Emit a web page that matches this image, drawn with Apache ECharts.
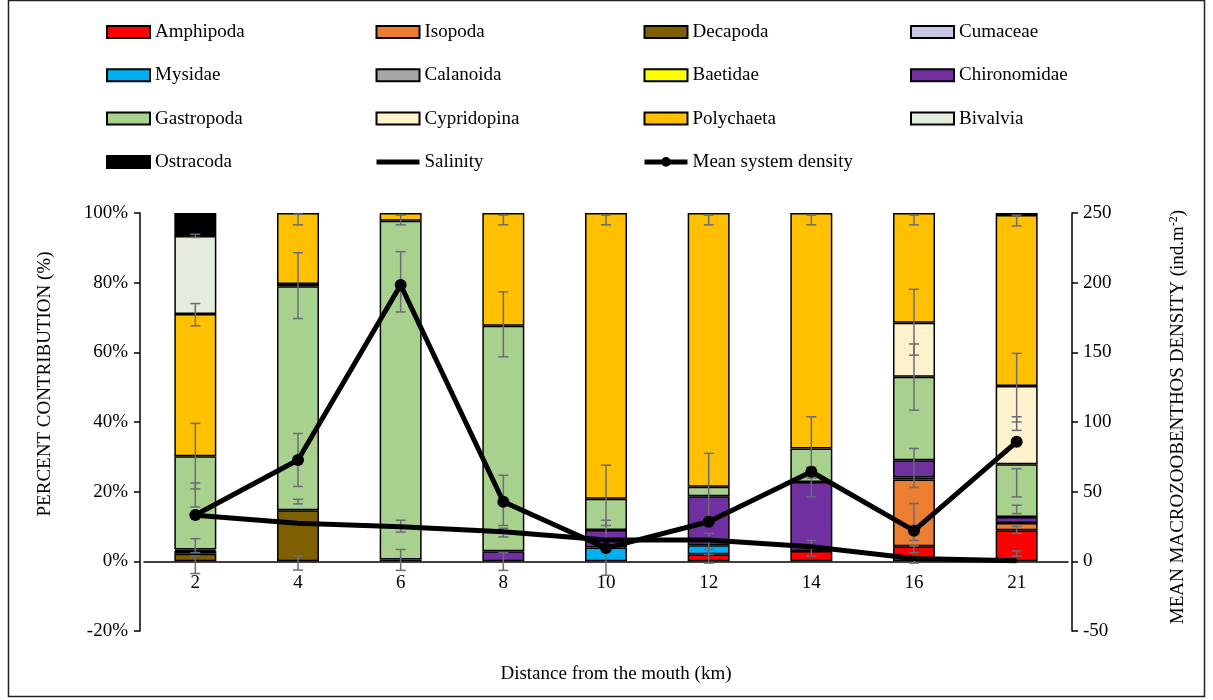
<!DOCTYPE html>
<html>
<head>
<meta charset="utf-8">
<script src="https://cdn.jsdelivr.net/npm/echarts@6/dist/echarts.min.js"></script>
<style>
  html, body { margin: 0; padding: 0; background: #fff; }
  #chart { width: 1213px; height: 700px; }
</style>
</head>
<body>
<div id="chart"></div>
<script>
// Sampling stations, distance from the mouth (km)
const categories = ['2', '4', '6', '8', '10', '12', '14', '16', '21'];

// Percent contribution of each taxon per station (stacked, bottom to top)
const amphipoda    = [0,    0,    0,    0,    0,    2.0,  3.0,  4.3,  8.9];
const isopoda      = [0,    0,    0,    0,    0,    0,    0,    19.2, 2.1];
const decapoda     = [2.2,  14.7, 0.5,  0,    0,    0,    0,    0,    0];
const cumaceae     = [0.8,  0,    0,    0,    0,    0,    0,    0,    0];
const mysidae      = [0,    0,    0,    0,    4.0,  2.6,  0,    0,    0];
const calanoida    = [0.4,  0,    0,    0,    0,    0,    0,    0.6,  0];
const baetidae     = [0,    0,    0,    0,    0,    0,    0,    0,    0];
const chironomidae = [0,    0,    0,    2.9,  5.0,  14.1, 19.8, 4.9,  1.7];
const gastropoda   = [26.8, 64.3, 97.3, 64.7, 9.0,  2.7,  9.6,  24.0, 15.2];
const cypridopina  = [0,    0.6,  0,    0,    0,    0,    0,    15.5, 22.4];
const polychaeta   = [40.8, 20.4, 2.2,  32.4, 82.0, 78.6, 67.6, 31.5, 49.1];
const bivalvia     = [22.4, 0,    0,    0,    0,    0,    0,    0,    0];
const ostracoda    = [6.6,  0,    0,    0,    0,    0,    0,    0,    0.6];

// Lines on the density axis
const salinity    = [33, 27.3, 24.8, 21.2, 15.3, 15.3, 10.5, 2.0, 0.5];
const meanDensity = [33.2, 72.7, 198.3, 42.8, 9.5, 28.4, 64.3, 22.0, 85.8];

// Error bar ranges on the percent axis: [station index, low, high]
const errorRanges = [
  [0, 93.0, 93.9], [0, 67.6, 74.0], [0, 20.8, 39.6], [0, 15.6, 22.5], [0, 2.5, 6.5], [0, -3.5, 1.5],
  [1, 96.6, 99.7], [1, 69.7, 88.6], [1, 21.5, 36.7], [1, 16.5, 17.8], [1, -2.5, 1.5],
  [2, 96.6, 99.4], [2, 71.6, 88.9], [2, 8.4, 11.8], [2, -2.6, 3.4],
  [3, 96.6, 99.4], [3, 58.7, 77.4], [3, 10.3, 24.7], [3, 7.0, 9.5], [3, -2.6, 2.5],
  [4, 96.6, 99.4], [4, 10.3, 27.6], [4, 6.5, 11.8], [4, -4.0, 3.0],
  [5, 96.6, 99.4], [5, 12.0, 31.0], [5, 2.0, 8.0], [5, -0.5, 3.5],
  [6, 96.6, 99.4], [6, 23.9, 41.5], [6, 18.5, 27.0], [6, 1.5, 6.0],
  [7, 96.6, 99.4], [7, 43.4, 78.1], [7, 59.2, 62.4], [7, 21.2, 32.4], [7, 6.0, 16.6], [7, 2.5, 4.5], [7, -0.5, 1.0],
  [8, 96.3, 99.4], [8, 37.6, 59.7], [8, 40.0, 41.5], [8, 18.5, 26.6], [8, 13.7, 16.1], [8, 8.0, 10.0], [8, 1.5, 3.0]
];

const taxa = [
  ['Amphipoda', amphipoda, '#ff0000'],
  ['Isopoda', isopoda, '#ed7d31'],
  ['Decapoda', decapoda, '#7f6000'],
  ['Cumaceae', cumaceae, '#c8c8e4'],
  ['Mysidae', mysidae, '#00b0f0'],
  ['Calanoida', calanoida, '#a6a6a6'],
  ['Baetidae', baetidae, '#ffff00'],
  ['Chironomidae', chironomidae, '#7030a0'],
  ['Gastropoda', gastropoda, '#a9d18e'],
  ['Cypridopina', cypridopina, '#fff2cc'],
  ['Polychaeta', polychaeta, '#ffc000'],
  ['Bivalvia', bivalvia, '#e4ecde'],
  ['Ostracoda', ostracoda, '#000000']
];

const FONT = 'Liberation Serif, Times New Roman, serif';
const errColor = '#6b6b7a';

// grid spans the -20..100 % range; zero sits 20/120 of the height above the bottom
const gridTop = 213, gridBottomY = 631;
const zeroOffset = (gridBottomY - gridTop) * 20 / 120;

const barSeries = taxa.map(([name, values, color]) => ({
  name: name,
  type: 'bar',
  stack: 'total',
  barWidth: 42,
  yAxisIndex: 0,
  z: 2,
  itemStyle: { color: color, borderColor: '#000', borderWidth: 1.5 },
  data: values.map(v => (v === 0 ? '-' : v))
}));

const errorSeries = {
  name: 'error',
  type: 'custom',
  xAxisIndex: 0,
  yAxisIndex: 0,
  z: 3,
  silent: true,
  encode: { x: 0, y: [1, 2] },
  data: errorRanges,
  renderItem: function (params, api) {
    const idx = api.value(0);
    const lo = api.coord([idx, api.value(1)]);
    const hi = api.coord([idx, api.value(2)]);
    const hw = 5;
    const st = { stroke: errColor, lineWidth: 1.5 };
    return {
      type: 'group',
      children: [
        { type: 'line', shape: { x1: lo[0], y1: lo[1], x2: hi[0], y2: hi[1] }, style: st },
        { type: 'line', shape: { x1: lo[0] - hw, y1: lo[1], x2: lo[0] + hw, y2: lo[1] }, style: st },
        { type: 'line', shape: { x1: hi[0] - hw, y1: hi[1], x2: hi[0] + hw, y2: hi[1] }, style: st }
      ]
    };
  }
};

const lineSeries = [
  {
    name: 'Salinity',
    type: 'line',
    yAxisIndex: 1,
    z: 5,
    symbol: 'none',
    lineStyle: { color: '#000', width: 5 },
    itemStyle: { color: '#000' },
    data: salinity
  },
  {
    name: 'Mean system density',
    type: 'line',
    yAxisIndex: 1,
    z: 6,
    symbol: 'circle',
    symbolSize: 12,
    lineStyle: { color: '#000', width: 5 },
    itemStyle: { color: '#000' },
    data: meanDensity
  }
];

const legendBase = {
  orient: 'vertical',
  top: 22,
  icon: 'rect',
  itemWidth: 43,
  itemHeight: 12,
  itemGap: 23.3,
  padding: 0,
  selectedMode: false,
  lineStyle: { width: 5 },
  textStyle: { fontFamily: FONT, fontSize: 19, color: '#000', lineHeight: 20 }
};

const option = {
  animation: false,
  backgroundColor: '#fff',
  grid: { left: 144, right: 145, top: gridTop, bottom: 700 - gridBottomY },
  legend: [
    Object.assign({}, legendBase, { left: 106, data: ['Amphipoda', 'Mysidae', 'Gastropoda', 'Ostracoda'] }),
    Object.assign({}, legendBase, { left: 374, data: ['Isopoda', 'Calanoida', 'Cypridopina',
      { name: 'Salinity', icon: 'inherit', itemStyle: { color: 'rgba(0,0,0,0)', borderWidth: 0 } }] }),
    Object.assign({}, legendBase, { left: 642, data: ['Decapoda', 'Baetidae', 'Polychaeta',
      { name: 'Mean system density', icon: 'inherit' }] }),
    Object.assign({}, legendBase, { left: 910, data: ['Cumaceae', 'Chironomidae', 'Bivalvia'] })
  ],
  xAxis: {
    type: 'category',
    data: categories,
    offset: -zeroOffset,
    axisLine: { onZero: false, lineStyle: { color: '#000', width: 1.5 } },
    axisTick: { show: false },
    axisLabel: { fontFamily: FONT, fontSize: 19, color: '#000', margin: 12 },
    splitLine: { show: false }
  },
  yAxis: [
    {
      type: 'value',
      position: 'left',
      offset: 4,
      min: -20,
      max: 100,
      interval: 20,
      axisLine: { show: true, onZero: false, lineStyle: { color: '#000', width: 1.5 } },
      axisTick: { show: true, length: 6, lineStyle: { color: '#000', width: 1.5 } },
      axisLabel: { fontFamily: FONT, fontSize: 19, color: '#000', margin: 12, formatter: '{value}%' },
      splitLine: { show: false }
    },
    {
      type: 'value',
      position: 'right',
      offset: 4,
      min: -50,
      max: 250,
      interval: 50,
      axisLine: { show: true, onZero: false, lineStyle: { color: '#000', width: 1.5 } },
      axisTick: { show: true, length: 6, lineStyle: { color: '#000', width: 1.5 } },
      axisLabel: { fontFamily: FONT, fontSize: 19, color: '#000', margin: 11 },
      splitLine: { show: false }
    }
  ],
  graphic: [
    {
      type: 'rect',
      shape: { x: 8.5, y: 0.5, width: 1196, height: 696 },
      style: { fill: 'none', stroke: '#222', lineWidth: 1.5 },
      silent: true
    },
    {
      type: 'text',
      x: 45, y: 384,
      rotation: Math.PI / 2,
      style: {
        text: 'PERCENT CONTRIBUTION (%)',
        font: '19px ' + FONT,
        fill: '#000',
        align: 'center',
        verticalAlign: 'middle'
      }
    },
    {
      type: 'text',
      x: 1178, y: 417,
      rotation: Math.PI / 2,
      style: {
        text: 'MEAN MACROZOOBENTHOS DENSITY (ind.m{sup|-2})',
        font: '19px ' + FONT,
        fill: '#000',
        align: 'center',
        verticalAlign: 'middle',
        rich: {
          sup: { fontFamily: FONT, fontSize: 12, fill: '#000', verticalAlign: 'top', padding: [0, 0, 8, 0] }
        }
      }
    },
    {
      type: 'text',
      x: 616, y: 674,
      style: {
        text: 'Distance from the mouth (km)',
        font: '19px ' + FONT,
        fill: '#000',
        align: 'center',
        verticalAlign: 'middle'
      }
    }
  ],
  series: barSeries.concat([errorSeries]).concat(lineSeries)
};

const chart = echarts.init(document.getElementById('chart'), null, { renderer: 'canvas' });
chart.setOption(option);
</script>
</body>
</html>
